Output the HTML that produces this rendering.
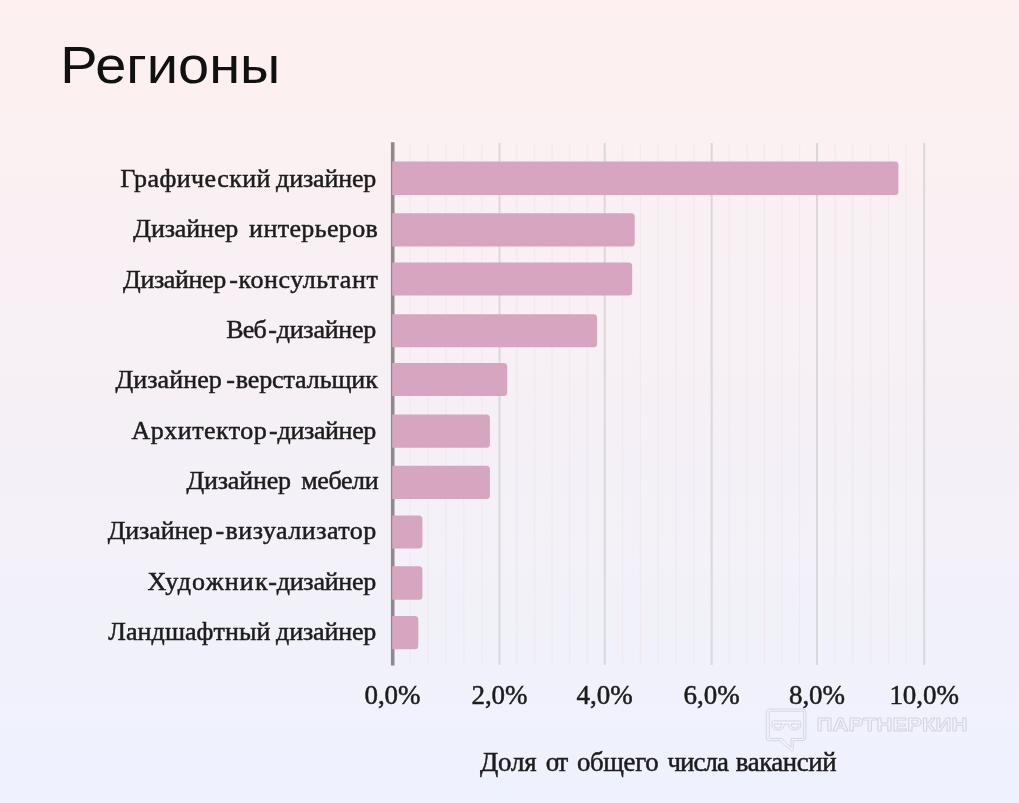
<!DOCTYPE html>
<html lang="ru"><head><meta charset="utf-8"><title>Регионы</title>
<style>
html,body{margin:0;padding:0;background:#f6f0f6;}
body{width:1019px;height:803px;overflow:hidden;position:relative;}
.page{position:absolute;left:0;top:0;width:1019px;height:803px;overflow:hidden;background:linear-gradient(180deg,#fef0f0 0%,#f6f0f6 50%,#eef2fe 100%);}
svg{display:block;position:absolute;left:0;top:0;filter:blur(0.6px);}
.t{font-family:"Liberation Sans",sans-serif;fill:#111;}
.s{font-family:"Liberation Serif",serif;font-size:26px;fill:#1c1c1c;stroke:#1c1c1c;stroke-width:0.5px;}
</style></head><body>
<div class="page">
<svg width="1019" height="803" viewBox="0 0 1019 803">
<text class="t" x="60.3" y="82.5" font-size="51.5" textLength="220" lengthAdjust="spacingAndGlyphs">Регионы</text>
<g stroke="#f0eaee" stroke-width="1.3">
<line x1="410.3" y1="143" x2="410.3" y2="665"/>
<line x1="428.2" y1="143" x2="428.2" y2="665"/>
<line x1="446.0" y1="143" x2="446.0" y2="665"/>
<line x1="463.8" y1="143" x2="463.8" y2="665"/>
<line x1="481.7" y1="143" x2="481.7" y2="665"/>
<line x1="517.0" y1="143" x2="517.0" y2="665"/>
<line x1="534.6" y1="143" x2="534.6" y2="665"/>
<line x1="552.1" y1="143" x2="552.1" y2="665"/>
<line x1="569.6" y1="143" x2="569.6" y2="665"/>
<line x1="587.2" y1="143" x2="587.2" y2="665"/>
<line x1="622.5" y1="143" x2="622.5" y2="665"/>
<line x1="640.4" y1="143" x2="640.4" y2="665"/>
<line x1="658.2" y1="143" x2="658.2" y2="665"/>
<line x1="676.0" y1="143" x2="676.0" y2="665"/>
<line x1="693.9" y1="143" x2="693.9" y2="665"/>
<line x1="729.2" y1="143" x2="729.2" y2="665"/>
<line x1="746.8" y1="143" x2="746.8" y2="665"/>
<line x1="764.4" y1="143" x2="764.4" y2="665"/>
<line x1="781.9" y1="143" x2="781.9" y2="665"/>
<line x1="799.5" y1="143" x2="799.5" y2="665"/>
<line x1="834.9" y1="143" x2="834.9" y2="665"/>
<line x1="852.7" y1="143" x2="852.7" y2="665"/>
<line x1="870.6" y1="143" x2="870.6" y2="665"/>
<line x1="888.5" y1="143" x2="888.5" y2="665"/>
<line x1="906.3" y1="143" x2="906.3" y2="665"/>
</g>
<g stroke="#dbd8dc" stroke-width="2">
<line x1="499.5" y1="143" x2="499.5" y2="665"/>
<line x1="604.7" y1="143" x2="604.7" y2="665"/>
<line x1="711.7" y1="143" x2="711.7" y2="665"/>
<line x1="817.0" y1="143" x2="817.0" y2="665"/>
<line x1="924.2" y1="143" x2="924.2" y2="665"/>
</g>
<line x1="392.7" y1="142.3" x2="392.7" y2="665.6" stroke="#8f898e" stroke-width="3.6"/>
<g fill="#d6a5bf">
<path d="M392.2 161.6h502.7a3.5 3.5 0 0 1 3.5 3.5v26.3a3.5 3.5 0 0 1 -3.5 3.5h-502.7z"/>
<path d="M392.2 213.3h239.0a3.5 3.5 0 0 1 3.5 3.5v26.1a3.5 3.5 0 0 1 -3.5 3.5h-239.0z"/>
<path d="M392.2 262.4h236.5a3.5 3.5 0 0 1 3.5 3.5v26.1a3.5 3.5 0 0 1 -3.5 3.5h-236.5z"/>
<path d="M392.2 314.2h201.4a3.5 3.5 0 0 1 3.5 3.5v26.1a3.5 3.5 0 0 1 -3.5 3.5h-201.4z"/>
<path d="M392.2 362.9h111.5a3.5 3.5 0 0 1 3.5 3.5v26.1a3.5 3.5 0 0 1 -3.5 3.5h-111.5z"/>
<path d="M392.2 414.4h94.2a3.5 3.5 0 0 1 3.5 3.5v26.4a3.5 3.5 0 0 1 -3.5 3.5h-94.2z"/>
<path d="M392.2 465.7h94.2a3.5 3.5 0 0 1 3.5 3.5v26.3a3.5 3.5 0 0 1 -3.5 3.5h-94.2z"/>
<path d="M392.2 515.4h26.7a3.5 3.5 0 0 1 3.5 3.5v26.2a3.5 3.5 0 0 1 -3.5 3.5h-26.7z"/>
<path d="M392.2 566.3h26.7a3.5 3.5 0 0 1 3.5 3.5v26.4a3.5 3.5 0 0 1 -3.5 3.5h-26.7z"/>
<path d="M392.2 616.0h22.6a3.5 3.5 0 0 1 3.5 3.5v26.3a3.5 3.5 0 0 1 -3.5 3.5h-22.6z"/>
</g>
<g class="s">
<text y="187.0"><tspan x="120.2" textLength="150.3" lengthAdjust="spacing">Графический</tspan> <tspan x="276.1" textLength="100.2" lengthAdjust="spacing">дизайнер</tspan></text>
<text y="237.4"><tspan x="133.3" textLength="105.0" lengthAdjust="spacing">Дизайнер</tspan> <tspan x="249.1" textLength="128.7" lengthAdjust="spacing">интерьеров</tspan></text>
<text y="287.8"><tspan x="123.0" textLength="103.3" lengthAdjust="spacing">Дизайнер</tspan><tspan x="229.2" textLength="7.7" lengthAdjust="spacing">-</tspan><tspan x="238.6" textLength="139.2" lengthAdjust="spacing">консультант</tspan></text>
<text y="338.0"><tspan x="226.3" textLength="40.5" lengthAdjust="spacing">Веб</tspan><tspan x="268.2" textLength="8.0" lengthAdjust="spacing">-</tspan><tspan x="276.7" textLength="99.6" lengthAdjust="spacing">дизайнер</tspan></text>
<text y="388.2"><tspan x="115.4" textLength="106.4" lengthAdjust="spacing">Дизайнер</tspan><tspan x="226.3" textLength="7.8" lengthAdjust="spacing">-</tspan><tspan x="235.7" textLength="142.1" lengthAdjust="spacing">верстальщик</tspan></text>
<text y="438.5"><tspan x="131.6" textLength="135.2" lengthAdjust="spacing">Архитектор</tspan><tspan x="269.0" textLength="8.0" lengthAdjust="spacing">-</tspan><tspan x="277.6" textLength="98.7" lengthAdjust="spacing">дизайнер</tspan></text>
<text y="489.4"><tspan x="186.5" textLength="104.5" lengthAdjust="spacing">Дизайнер</tspan> <tspan x="301.2" textLength="77.4" lengthAdjust="spacing">мебели</tspan></text>
<text y="539.0"><tspan x="107.7" textLength="105.0" lengthAdjust="spacing">Дизайнер</tspan><tspan x="215.5" textLength="8.0" lengthAdjust="spacing">-</tspan><tspan x="225.5" textLength="150.8" lengthAdjust="spacing">визуализатор</tspan></text>
<text y="590.0"><tspan x="147.5" textLength="120.1" lengthAdjust="spacing">Художник</tspan><tspan x="268.2" textLength="8.0" lengthAdjust="spacing">-</tspan><tspan x="276.7" textLength="99.6" lengthAdjust="spacing">дизайнер</tspan></text>
<text y="640.0"><tspan x="108.2" textLength="162.3" lengthAdjust="spacing">Ландшафтный</tspan> <tspan x="276.1" textLength="100.2" lengthAdjust="spacing">дизайнер</tspan></text>
<text x="364.4" y="704" font-size="27" textLength="56.2" lengthAdjust="spacing">0,0%</text>
<text x="471.4" y="704" font-size="27" textLength="56.2" lengthAdjust="spacing">2,0%</text>
<text x="576.6" y="704" font-size="27" textLength="56.2" lengthAdjust="spacing">4,0%</text>
<text x="683.6" y="704" font-size="27" textLength="56.2" lengthAdjust="spacing">6,0%</text>
<text x="788.9" y="704" font-size="27" textLength="56.2" lengthAdjust="spacing">8,0%</text>
<text x="889.4" y="704" font-size="27" textLength="69.6" lengthAdjust="spacing">10,0%</text>
<text y="770.7" font-size="26.8"><tspan x="480.0" textLength="56.5" lengthAdjust="spacing">Доля</tspan> <tspan x="545.8" textLength="22.4" lengthAdjust="spacing">от</tspan> <tspan x="576.9" textLength="81.7" lengthAdjust="spacing">общего</tspan> <tspan x="667.4" textLength="61.6" lengthAdjust="spacing">числа</tspan> <tspan x="735.8" textLength="100.7" lengthAdjust="spacing">вакансий</tspan></text>
</g>
<g fill="rgba(255,255,255,0.12)" fill-rule="evenodd" stroke="#d3d3dc" stroke-width="0.9" stroke-linejoin="round">
<path d="M769.3 709h33.6a3 3 0 0 1 3 3v25.7a3 3 0 0 1 -3 3h-9.7v9a1.3 1.3 0 0 1 -2.3 0.8l-11.5 -9.8h-10.1a3 3 0 0 1 -3 -3v-25.7a3 3 0 0 1 3 -3z M770.3 711.2h32.4a1 1 0 0 1 1 1v25.3a1 1 0 0 1 -1 1h-11.7v9.3l-9.3 -9.3h-11.4a1 1 0 0 1 -1 -1v-25.3a1 1 0 0 1 1 -1z"/>
<path d="M774 720.9h24.7a2 2 0 0 1 2 2v2.5a4.5 4.5 0 0 1 -4.5 4.5h-3a4.5 4.5 0 0 1 -4.5 -4.5v-1.2h-4.7v1.2a4.5 4.5 0 0 1 -4.5 4.5h-3a4.5 4.5 0 0 1 -4.5 -4.5v-2.5a2 2 0 0 1 2 -2z M774.2 723.9h7.5v1.4a2.8 2.8 0 0 1 -2.8 2.8h-1.9a2.8 2.8 0 0 1 -2.8 -2.8z M791.3 723.9h7.5v1.4a2.8 2.8 0 0 1 -2.8 2.8h-1.9a2.8 2.8 0 0 1 -2.8 -2.8z"/>
<text x="816.5" y="731.2" font-family="'Liberation Sans',sans-serif" font-weight="bold" font-size="18.2" textLength="151" lengthAdjust="spacingAndGlyphs">ПАРТНЕРКИН</text>
</g>
</svg>
</div>
</body></html>
